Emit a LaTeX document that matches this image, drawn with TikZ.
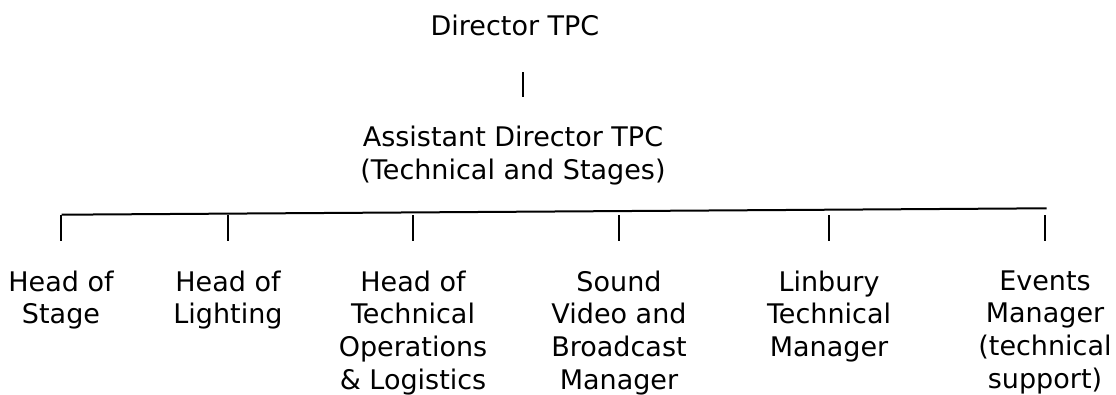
\documentclass[tikz,border=0pt]{standalone}
\usepackage{fontspec}
\setmainfont{DejaVu Sans}
\usepackage{tikz}

\begin{document}
\begin{tikzpicture}[x=1pt,y=-1pt,
  post/.style={font=\fontsize{27}{32.7}\selectfont,align=center,anchor=north,
               inner sep=0pt,execute at begin node=\strut},
  link/.style={black,line width=2}]

\useasboundingbox (0,0) rectangle (1116,394);

% first baseline = node top + 22.9
\node[post] (dir) at (515,12.1) {Director TPC};

\node[post] (adir) at (513,126.1) {Assistant Director TPC\\(Technical and Stages)};

\coordinate (bar top) at (523,72);
\coordinate (bar bot) at (523,97);
\draw[black,line width=1.6] (bar top) -- (bar bot);

\coordinate (rail west) at (61.7,214.7);
\coordinate (rail east) at (1046.7,208.3);
\draw[link] (rail west) -- (rail east);

\foreach \i/\x/\txt in {1/61/{Head of\\Stage},
                        2/228/{Head of\\Lighting},
                        3/413/{Head of\\Technical\\Operations\\\& Logistics},
                        4/619/{Sound\\Video and\\Broadcast\\Manager},
                        5/829/{Linbury\\Technical\\Manager},
                        6/1045/{Events\\Manager\\(technical\\support)}} {
  \node[post] (head\i) at (\x,270.4) {\txt};
  \coordinate (tick\i) at (\x,215);
  \draw[link] (tick\i) -- ++(0,26);
}

\end{tikzpicture}
\end{document}
